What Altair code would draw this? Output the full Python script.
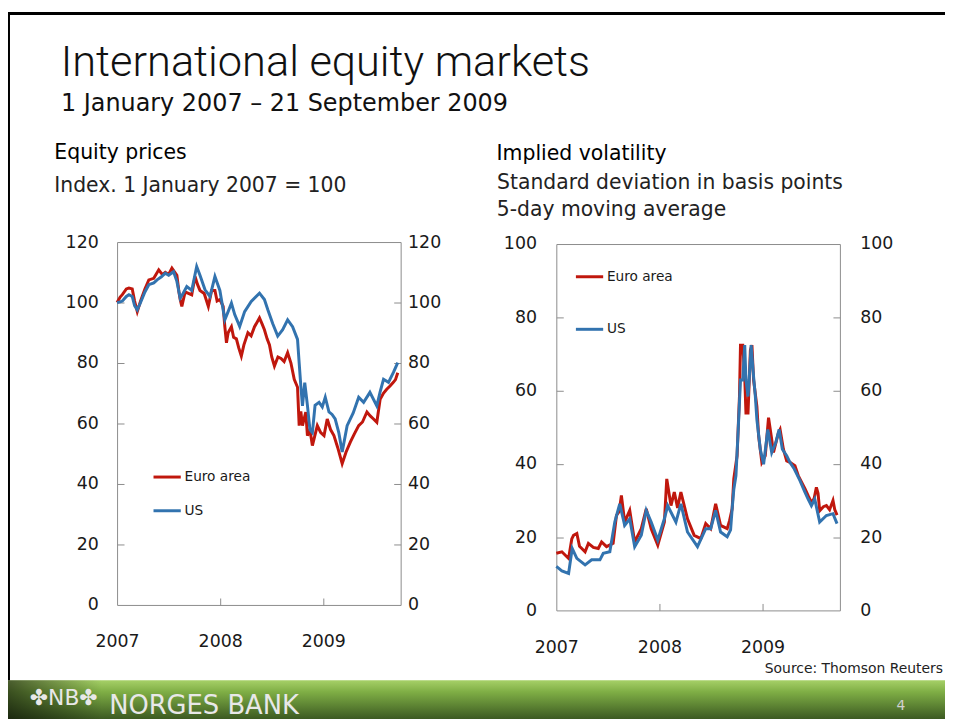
import altair as alt
import pandas as pd

W, H = 945, 714
FONT = "DejaVu Sans"
RED = "#C0170D"
BLUE = "#3273AF"
AXIS_GREY = "#8c8c8c"

series_names = ["Euro area", "US"]
year_ticks = [2007, 2008, 2009]
eq_ticks = [0, 20, 40, 60, 80, 100, 120]
vol_ticks = [0, 20, 40, 60, 80, 100]

# ---------------- Equity prices (index, 1 Jan 2007 = 100) ----------------
eq_euro_t = [2007.000, 2007.030, 2007.051, 2007.090, 2007.115, 2007.147, 2007.170, 2007.196, 2007.228, 2007.270,
             2007.308, 2007.356, 2007.404, 2007.440, 2007.468, 2007.500, 2007.532, 2007.560, 2007.580, 2007.600,
             2007.612, 2007.628, 2007.660, 2007.692, 2007.724, 2007.756, 2007.780, 2007.804, 2007.845, 2007.885,
             2007.917, 2007.949, 2007.970, 2007.997, 2008.029, 2008.045, 2008.061, 2008.077, 2008.109, 2008.130,
             2008.157, 2008.180, 2008.205, 2008.230, 2008.269, 2008.300, 2008.333, 2008.381, 2008.405, 2008.429,
             2008.455, 2008.478, 2008.500, 2008.526, 2008.560, 2008.590, 2008.620, 2008.654, 2008.686, 2008.718,
             2008.750, 2008.766, 2008.782, 2008.798, 2008.830, 2008.846, 2008.870, 2008.894, 2008.942, 2008.975,
             2009.007, 2009.038, 2009.070, 2009.103, 2009.140, 2009.183, 2009.220, 2009.263, 2009.300, 2009.343,
             2009.380, 2009.423, 2009.455, 2009.487, 2009.519, 2009.551, 2009.583, 2009.615, 2009.647, 2009.679,
             2009.700, 2009.722]
eq_euro_v = [100.0, 101.8, 102.6, 104.5, 104.8, 104.5, 100.5, 97.0, 100.5, 104.5,
             107.5, 108.0, 110.8, 109.2, 110.0, 109.3, 111.4, 110.0, 109.0, 103.5,
             101.0, 98.7, 103.5, 103.0, 102.5, 108.6, 106.0, 104.0, 103.0, 98.7,
             104.0, 104.0, 100.5, 101.0, 98.7, 92.0, 86.7, 90.0, 92.0, 88.5,
             88.0, 85.0, 82.3, 86.0, 90.0, 89.0, 92.0, 94.9, 93.0, 91.0,
             88.0, 86.0, 82.0, 79.0, 82.0, 81.5, 80.5, 83.4, 80.0, 74.6,
             72.0, 59.3, 64.0, 59.3, 63.8, 56.0, 58.0, 52.7, 59.3, 57.0,
             56.0, 61.5, 58.0, 56.0, 52.0, 46.7, 50.5, 53.9, 56.5, 59.3,
             60.5, 63.8, 62.5, 61.5, 60.4, 68.0, 70.0, 71.3, 72.4, 73.6,
             74.5, 76.8]

eq_us_t = [2007.000, 2007.030, 2007.051, 2007.090, 2007.115, 2007.147, 2007.170, 2007.196, 2007.228, 2007.270,
           2007.308, 2007.356, 2007.388, 2007.430, 2007.468, 2007.500, 2007.548, 2007.580, 2007.612, 2007.640,
           2007.676, 2007.724, 2007.772, 2007.804, 2007.853, 2007.901, 2007.949, 2007.997, 2008.045, 2008.077,
           2008.109, 2008.141, 2008.189, 2008.237, 2008.301, 2008.381, 2008.429, 2008.462, 2008.510, 2008.558,
           2008.606, 2008.654, 2008.702, 2008.750, 2008.766, 2008.782, 2008.798, 2008.820, 2008.846, 2008.870,
           2008.894, 2008.920, 2008.959, 2008.990, 2009.019, 2009.055, 2009.085, 2009.115, 2009.150, 2009.183,
           2009.231, 2009.290, 2009.343, 2009.391, 2009.452, 2009.519, 2009.551, 2009.584, 2009.632, 2009.680,
           2009.722]
eq_us_v = [100.0, 100.2, 100.5, 102.0, 102.6, 102.0, 99.0, 97.6, 100.0, 103.5,
           105.9, 106.5, 107.5, 108.5, 109.7, 109.0, 110.2, 107.0, 101.5, 103.0,
           105.3, 104.0, 111.9, 109.0, 104.2, 102.0, 108.6, 104.0, 94.3, 97.0,
           99.8, 96.0, 92.1, 97.0, 100.4, 103.1, 101.0, 97.6, 93.0, 88.9,
           91.0, 94.3, 92.0, 87.8, 80.0, 72.4, 65.8, 73.5, 66.0, 58.0,
           57.0, 66.0, 67.0, 65.5, 68.7, 63.8, 63.0, 61.5, 57.0, 50.6,
           59.3, 63.5, 68.7, 67.0, 70.3, 65.8, 70.5, 74.6, 73.6, 76.9,
           80.1]

# ---------------- Implied volatility (5-day moving average) ----------------
vol_euro_t = [2007.000, 2007.054, 2007.090, 2007.119, 2007.150, 2007.167, 2007.199, 2007.225, 2007.247, 2007.279,
              2007.311, 2007.359, 2007.407, 2007.439, 2007.487, 2007.551, 2007.583, 2007.610, 2007.631, 2007.663,
              2007.712, 2007.760, 2007.824, 2007.872, 2007.920, 2007.984, 2008.048, 2008.071, 2008.112, 2008.144,
              2008.176, 2008.208, 2008.272, 2008.337, 2008.401, 2008.449, 2008.497, 2008.545, 2008.593, 2008.657,
              2008.680, 2008.705, 2008.721, 2008.753, 2008.776, 2008.786, 2008.808, 2008.827, 2008.839, 2008.859,
              2008.882, 2008.897, 2008.913, 2008.945, 2008.962, 2008.993, 2009.026, 2009.058, 2009.084, 2009.106,
              2009.154, 2009.170, 2009.202, 2009.234, 2009.266, 2009.314, 2009.346, 2009.411, 2009.442, 2009.474,
              2009.500, 2009.522, 2009.538, 2009.554, 2009.590, 2009.619, 2009.650, 2009.683, 2009.700, 2009.722]
vol_euro_v = [15.6, 16.0, 15.0, 14.2, 19.5, 20.5, 21.0, 17.5, 16.9, 16.0,
              18.3, 17.2, 16.9, 18.7, 17.4, 18.3, 25.9, 27.0, 31.4, 24.1,
              27.3, 18.7, 22.3, 27.7, 22.3, 17.8, 24.1, 35.9, 28.6, 32.3,
              28.0, 32.3, 25.0, 20.5, 19.6, 23.7, 22.3, 29.1, 23.2, 22.3,
              24.5, 27.7, 35.9, 42.2, 58.4, 72.4, 72.4, 63.8, 53.9, 53.9,
              71.0, 72.4, 62.9, 55.7, 47.6, 40.4, 42.2, 52.6, 47.6, 43.1,
              48.5, 49.4, 44.0, 40.8, 40.4, 39.5, 36.8, 33.2, 31.3, 29.5,
              30.5, 33.6, 32.0, 27.2, 28.3, 28.6, 27.5, 30.0, 27.5, 26.0]

vol_us_t = [2007.000, 2007.054, 2007.119, 2007.154, 2007.199, 2007.279, 2007.343, 2007.423, 2007.455, 2007.519,
            2007.567, 2007.615, 2007.663, 2007.712, 2007.760, 2007.824, 2007.872, 2007.920, 2007.984, 2008.048,
            2008.080, 2008.112, 2008.160, 2008.208, 2008.272, 2008.369, 2008.449, 2008.497, 2008.545, 2008.593,
            2008.657, 2008.690, 2008.705, 2008.721, 2008.742, 2008.764, 2008.786, 2008.808, 2008.827, 2008.839,
            2008.859, 2008.870, 2008.889, 2008.913, 2008.930, 2008.945, 2008.978, 2009.010, 2009.051, 2009.089,
            2009.128, 2009.161, 2009.192, 2009.234, 2009.266, 2009.308, 2009.363, 2009.411, 2009.442, 2009.474,
            2009.506, 2009.554, 2009.619, 2009.683, 2009.722]
vol_us_v = [12.0, 10.8, 10.1, 16.9, 14.2, 12.4, 13.8, 13.8, 15.6, 16.0,
            24.1, 29.1, 23.2, 25.0, 17.4, 20.5, 27.3, 24.1, 19.2, 25.0,
            28.6, 26.8, 24.1, 29.1, 21.4, 17.4, 22.3, 22.3, 27.3, 21.4,
            20.1, 22.0, 27.7, 33.0, 36.8, 49.4, 62.9, 62.9, 72.4, 62.9,
            58.4, 62.9, 72.4, 63.8, 58.4, 52.1, 44.0, 39.9, 49.4, 43.1,
            45.8, 49.4, 44.0, 42.2, 40.4, 38.6, 35.4, 32.3, 30.4, 28.6,
            30.4, 24.1, 25.9, 26.4, 23.7]


def long_df(t1, v1, t2, v2):
    return pd.DataFrame({
        "t": t1 + t2,
        "v": v1 + v2,
        "series": [series_names[0]] * len(t1) + [series_names[1]] * len(t2),
    })


eq_df = long_df(eq_euro_t, eq_euro_v, eq_us_t, eq_us_v)
vol_df = long_df(vol_euro_t, vol_euro_v, vol_us_t, vol_us_v)

BASE_AXIS = dict(grid=False, title=None, domainColor=AXIS_GREY, tickColor=AXIS_GREY,
                 domainWidth=1, tickWidth=1, labelFont=FONT, labelFontSize=17.5,
                 labelColor="#1a1a1a", labelOverlap=False)


def panel(df, xr, yr, ydom, yticks, leg_x, leg_y, leg_rowpad, pad_left, pad_right, pad_x):
    inner = yticks[1:-1]

    def X(axis):
        return alt.X("t:Q", axis=axis,
                     scale=alt.Scale(domain=[2007, 2009.75], range=xr, nice=False, zero=False))

    def Y(axis):
        return alt.Y("v:Q", axis=axis,
                     scale=alt.Scale(domain=ydom, range=yr, nice=False, zero=False))

    lines = alt.Chart(df).mark_line(strokeWidth=3).encode(
        x=X(alt.Axis(orient="bottom", offset=yr[0] - H, values=year_ticks, format="d",
                     ticks=False, labelPadding=pad_x, labelBaseline="middle",
                     labelFlush=False, domain=True, **BASE_AXIS)),
        y=Y(alt.Axis(orient="left", offset=-xr[0], values=yticks, ticks=False,
                     labelPadding=pad_left, domain=True, **BASE_AXIS)),
        color=alt.Color("series:N",
                        scale=alt.Scale(domain=series_names, range=[RED, BLUE]),
                        legend=alt.Legend(orient="none", legendX=leg_x, legendY=leg_y,
                                          title=None, symbolType="stroke", symbolSize=756,
                                          symbolStrokeWidth=3, labelFont=FONT,
                                          labelFontSize=13.8, labelColor="#1a1a1a",
                                          labelOffset=2, rowPadding=leg_rowpad, padding=0)),
    )
    right_labels = alt.Chart(df).mark_line(opacity=0).encode(
        x=X(alt.Axis(orient="top", offset=-yr[0], values=year_ticks[1:], labels=False,
                     domain=False, ticks=True, tickSize=7, **BASE_AXIS)),
        y=Y(alt.Axis(orient="right", offset=xr[1] - W, values=yticks, ticks=False,
                     domain=False, labelPadding=pad_right, **BASE_AXIS)),
        detail="series:N",
    )
    frame = alt.Chart(df).mark_line(opacity=0).encode(
        x=X(alt.Axis(orient="top", offset=-yr[1], values=year_ticks, labels=False,
                     ticks=False, domain=True, **BASE_AXIS)),
        y=Y(alt.Axis(orient="left", offset=-xr[1], values=inner, labels=False,
                     ticks=True, tickSize=7, domain=True, **BASE_AXIS)),
        detail="series:N",
    )
    left_ticks = alt.Chart(df).mark_line(opacity=0).encode(
        x=X(None),
        y=Y(alt.Axis(orient="right", offset=xr[0] - W, values=inner, labels=False,
                     ticks=True, tickSize=7, domain=False, **BASE_AXIS)),
        detail="series:N",
    )
    return [lines, right_labels, frame, left_ticks]


one = pd.DataFrame({"k": [0]})


def txt(s, x, y, size, font=FONT, color="#111111", weight="normal", align="left",
        baseline="alphabetic"):
    return alt.Chart(one).mark_text(text=s, font=font, fontSize=size, color=color,
                                    fontWeight=weight, align=align, baseline=baseline).encode(
        x=alt.value(x), y=alt.value(y))


left_layers = panel(eq_df, xr=[110, 396], yr=[599, 233], ydom=[0, 120], yticks=eq_ticks,
                    leg_x=145, leg_y=454.5, leg_rowpad=11, pad_left=19, pad_right=7, pad_x=37)
right_layers = panel(vol_df, xr=[553, 839], yr=[604.5, 235], ydom=[0, 100], yticks=vol_ticks,
                     leg_x=571, leg_y=252.5, leg_rowpad=30, pad_left=20, pad_right=20, pad_x=37.5)

footer = alt.Chart(one).mark_rect(
    fill=alt.Gradient(gradient="linear", x1=0, x2=0, y1=0, y2=1,
                      stops=[alt.GradientStop(offset=0, color="#a6d067"),
                             alt.GradientStop(offset=0.3, color="#7fae45"),
                             alt.GradientStop(offset=1, color="#3c5a22")])
).encode(x=alt.value(0), x2=alt.value(W), y=alt.value(675), y2=alt.value(H))

footer_shade = alt.Chart(one).mark_rect(
    fill=alt.Gradient(gradient="linear", x1=0, x2=1, y1=0, y2=0,
                      stops=[alt.GradientStop(offset=0, color="rgba(0,0,0,0.55)"),
                             alt.GradientStop(offset=0.1, color="rgba(0,0,0,0)")])
).encode(x=alt.value(0), x2=alt.value(W), y=alt.value(675), y2=alt.value(H))

top_border = alt.Chart(one).mark_rule(color="black", strokeWidth=3).encode(
    x=alt.value(0), x2=alt.value(W), y=alt.value(2.5))
left_border = alt.Chart(one).mark_rule(color="black", strokeWidth=2).encode(
    x=alt.value(1), y=alt.value(1), y2=alt.value(675))

texts = [
    txt("International equity markets", 53.2, 65.3, 43.7, font="Roboto", weight=300, color="#111111"),
    txt("1 January 2007 \u2013 21 September 2009", 53.4, 101.3, 24.1, color="#111111"),
    txt("Equity prices", 46.7, 149.7, 20.6, color="#000000"),
    txt("Index. 1 January 2007 = 100", 46.7, 182.5, 20.5, color="#222222"),
    txt("Implied volatility", 492.7, 150.3, 20.6, color="#000000"),
    txt("Standard deviation in basis points", 493.3, 179.3, 20.5, color="#222222"),
    txt("5-day moving average", 493.0, 207.0, 20.5, color="#222222"),
    txt("Source:  Thomson Reuters", 943, 668, 14, color="#222222", align="right"),
    txt("\u2724NB\u2724", 22, 700, 22, color="#e8e8e8"),
    txt("NORGES BANK", 102, 709, 26, color="#e8e8e8"),
    txt("4", 896, 705, 14, color="#d0d0d0"),
]

layers = ([footer, footer_shade, top_border, left_border] + left_layers + right_layers + texts)

chart = alt.layer(*layers).properties(
    width=W, height=H, padding=0, background="white",
    autosize=alt.AutoSizeParams(type="none"),
).resolve_scale(
    x="independent", y="independent", color="independent"
).configure_view(strokeWidth=0)

chart.save("out.html", embed_options={"renderer": "svg", "actions": False})
